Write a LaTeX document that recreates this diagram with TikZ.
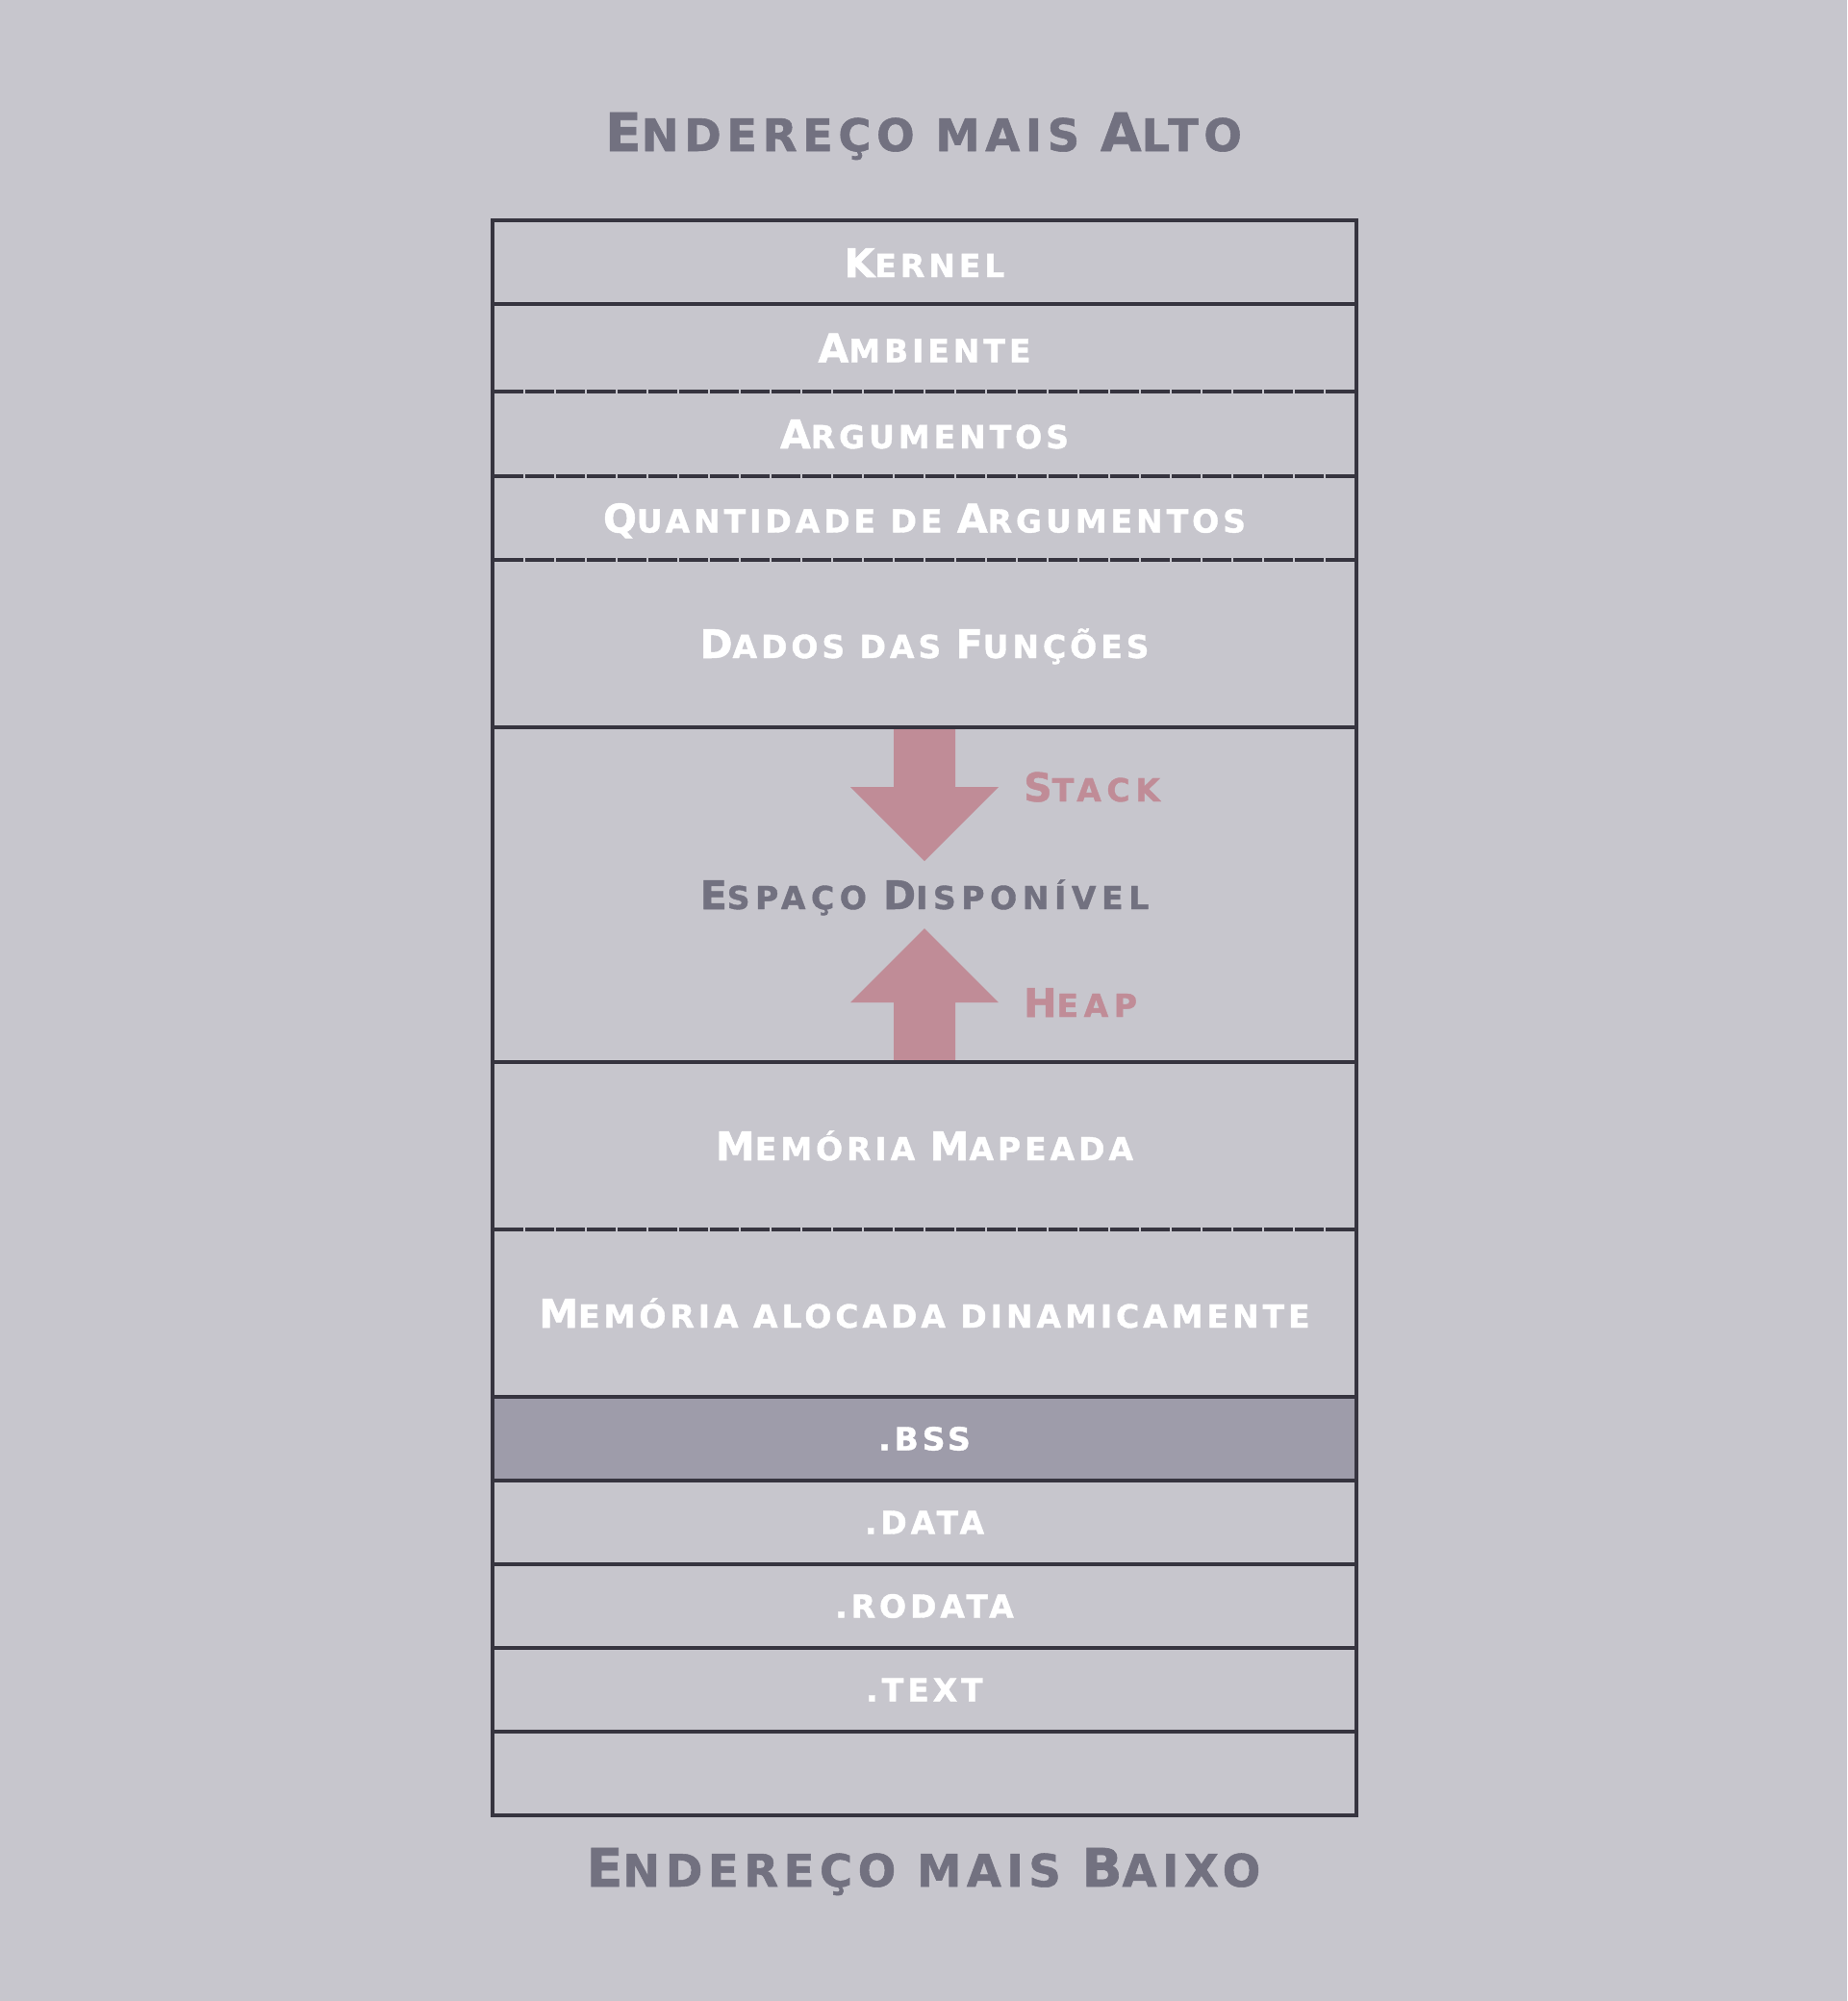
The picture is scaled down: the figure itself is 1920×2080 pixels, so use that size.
\documentclass[tikz,border=0pt]{standalone}
\usepackage{fontspec}
\newfontfamily\pix{DejaVu Sans}[LetterSpace=12, BoldFeatures={FakeBold=1.2}]
\newfontfamily\pixw{DejaVu Sans}[LetterSpace=17, BoldFeatures={FakeBold=1.2}]
\definecolor{bgc}{RGB}{199,198,205}
\definecolor{linec}{RGB}{54,52,63}
\definecolor{titlec}{RGB}{114,113,128}
\definecolor{pinkc}{RGB}{192,140,151}
\definecolor{bssc}{RGB}{158,156,170}
\newcommand\Cp[1]{{\fontsize{\capsz}{\capsz}\selectfont #1}}
\begin{document}
\begin{tikzpicture}[x=1pt,y=-1pt,
  rowbox/.style={rectangle, inner sep=0pt, outer sep=0pt, minimum width=898pt, minimum height=#1, anchor=north},
  sepsolid/.style={draw=linec, line width=4pt},
  sepdash/.style={draw=linec, line width=4pt, dash pattern=on 30pt off 2pt, dash phase=30pt},
  rowtxt/.style={font={\def\capsz{41}\pix\bfseries\fontsize{33}{33}\selectfont}, text=white, anchor=base, inner sep=0pt},
  darktxt/.style={font={\def\capsz{41}\pixw\bfseries\fontsize{33}{33}\selectfont}, text=titlec, anchor=base, inner sep=0pt},
  pinktxt/.style={darktxt, text=pinkc, anchor=base west},
  titletxt/.style={font={\def\capsz{55}\pix\bfseries\fontsize{46.5}{46.5}\selectfont}, text=titlec, anchor=base, inner sep=0pt},
  growarrow/.style={fill=pinkc}
]
\useasboundingbox (0,0) rectangle (1920,2080);
\fill[bgc] (0,0) rectangle (1920,2080);

% rows
\node[rowbox=87pt] (kernel) at (961,229) {};
\node[rowbox=91pt] (amb) at (kernel.south) {};
\node[rowbox=88pt] (arg) at (amb.south) {};
\node[rowbox=87pt] (qtd) at (arg.south) {};
\node[rowbox=174pt] (dados) at (qtd.south) {};
\node[rowbox=348pt] (esp) at (dados.south) {};
\node[rowbox=174pt] (map) at (esp.south) {};
\node[rowbox=174pt] (din) at (map.south) {};
\node[rowbox=87pt, fill=bssc] (bss) at (din.south) {};
\node[rowbox=87pt] (data) at (bss.south) {};
\node[rowbox=87pt] (rodata) at (data.south) {};
\node[rowbox=87pt] (text) at (rodata.south) {};
\node[rowbox=87pt] (empty) at (text.south) {};

% stack / heap arrows
\fill[growarrow] (929,756) -- (929,818) -- (884,818) -- (961,895) -- (1038,818) -- (993,818) -- (993,756) -- cycle;
\fill[growarrow] (929,1104) -- (929,1042) -- (884,1042) -- (961,965) -- (1038,1042) -- (993,1042) -- (993,1104) -- cycle;

% separators
\draw[sepsolid] (kernel.south west) -- (kernel.south east);
\draw[sepdash] (amb.south west) -- (amb.south east);
\draw[sepdash] (arg.south west) -- (arg.south east);
\draw[sepdash] (qtd.south west) -- (qtd.south east);
\draw[sepsolid] (dados.south west) -- (dados.south east);
\draw[sepsolid] (esp.south west) -- (esp.south east);
\draw[sepdash] (map.south west) -- (map.south east);
\draw[sepsolid] (din.south west) -- (din.south east);
\draw[sepsolid] (bss.south west) -- (bss.south east);
\draw[sepsolid] (data.south west) -- (data.south east);
\draw[sepsolid] (rodata.south west) -- (rodata.south east);
\draw[sepsolid] (text.south west) -- (text.south east);
\draw[draw=linec, line width=4pt] (kernel.north west) rectangle (empty.south east);

% titles
\node[titletxt] (ttop) at (960,157) {\Cp{E}NDEREÇO MAIS \Cp{A}LTO};
\node[titletxt] (tbot) at (960,1961) {\Cp{E}NDEREÇO MAIS \Cp{B}AIXO};

% row labels
\node[rowtxt] (tkernel) at (961,288) {\Cp{K}ERNEL};
\node[rowtxt] (tamb) at (961,376.5) {\Cp{A}MBIENTE};
\node[rowtxt] (targ) at (961,466) {\Cp{A}RGUMENTOS};
\node[rowtxt] (tqtd) at (961,553.5) {\Cp{Q}UANTIDADE DE \Cp{A}RGUMENTOS};
\node[rowtxt] (tdados) at (961,684) {\Cp{D}ADOS DAS \Cp{F}UNÇÕES};
\node[darktxt] (tesp) at (961,945) {\Cp{E}SPAÇO \Cp{D}ISPONÍVEL};
\node[pinktxt] (tstack) at (1064,833) {\Cp{S}TACK};
\node[pinktxt] (theap) at (1064,1057) {\Cp{H}EAP};
\node[rowtxt] (tmap) at (961,1206) {\Cp{M}EMÓRIA \Cp{M}APEADA};
\node[rowtxt] (tdin) at (961,1380) {\Cp{M}EMÓRIA ALOCADA DINAMICAMENTE};
\node[rowtxt] (tbss) at (961,1507.5) {.BSS};
\node[rowtxt] (tdata) at (961,1594.5) {.DATA};
\node[rowtxt] (trodata) at (961,1681.5) {.RODATA};
\node[rowtxt] (ttext) at (961,1768.5) {.TEXT};
\end{tikzpicture}
\end{document}
